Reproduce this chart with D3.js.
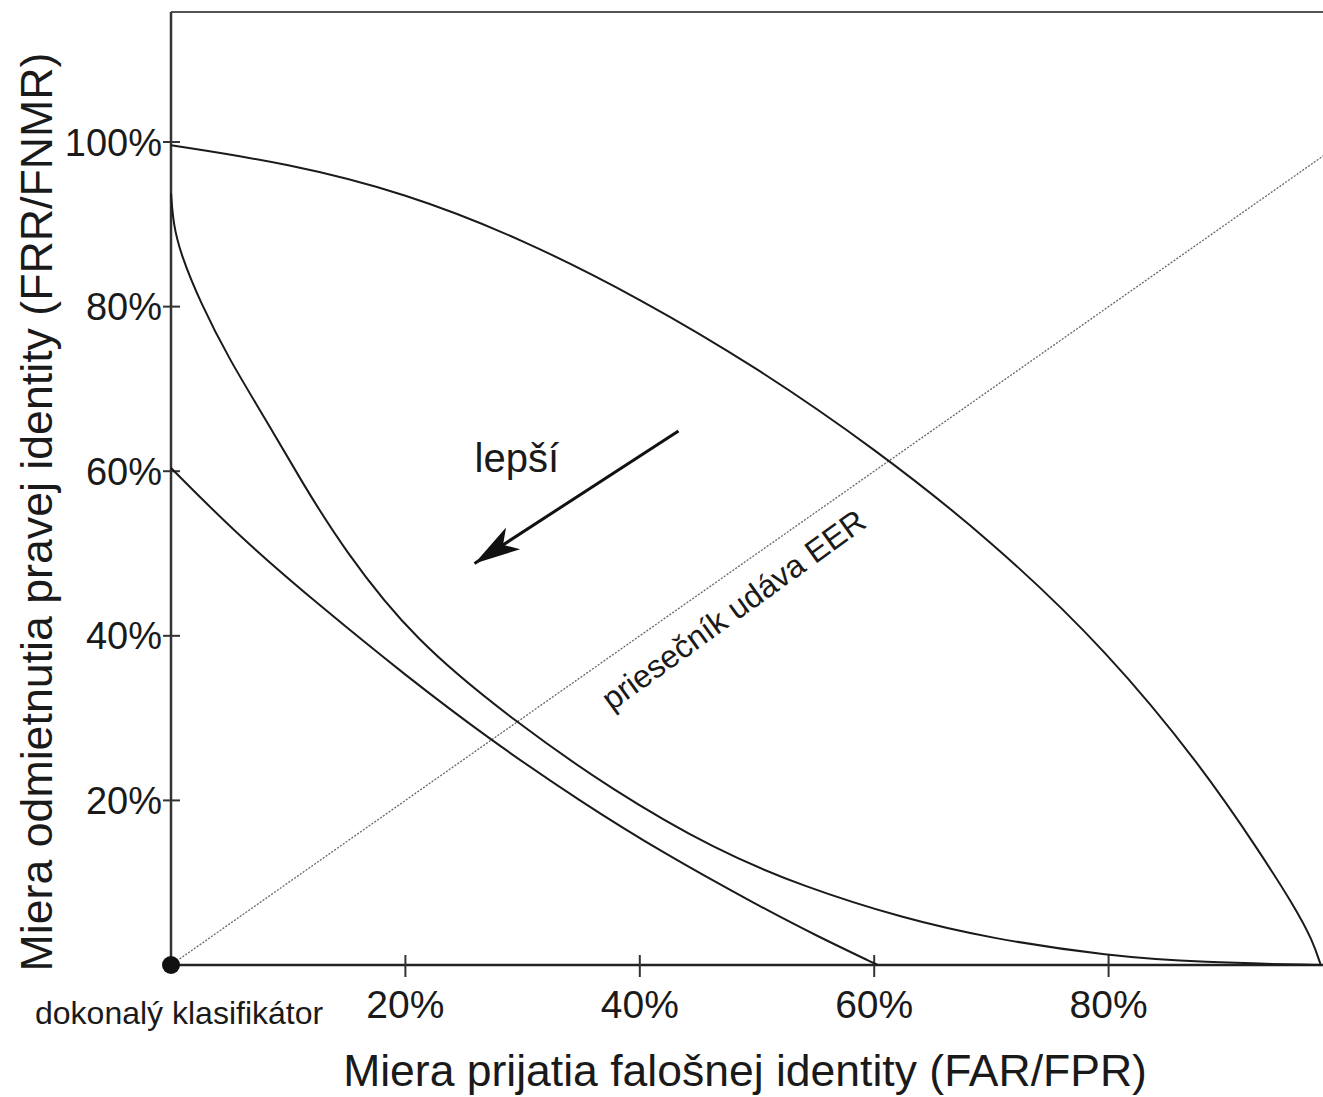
<!DOCTYPE html>
<html>
<head>
<meta charset="utf-8">
<script src="https://cdn.jsdelivr.net/npm/d3@7"></script>
<style>
  body { margin: 0; background: #fff; }
  text { font-family: "Liberation Sans", Arial, sans-serif; fill: #1a1a1a; }
</style>
</head>
<body>
<div id="chart"></div>
<script>
// tick values (percent)
var xTicks = [20, 40, 60, 80];
var yTicks = [20, 40, 60, 80, 100];

// curves: [FAR %, FRR %]
var curveOuter = [[0, 99.6], [10, 97.4], [20, 93.8], [30, 88.2], [40, 81], [50, 72.6],
  [60, 62.8], [70, 51.6], [80, 38], [88, 24], [93, 13.5], [95.9, 7], [97.4, 3], [98.1, 0]];
var curveMiddle = [[0, 93.8], [0.2, 90], [0.8, 86.5], [2.5, 80.5], [5, 73.5], [8, 66.5],
  [11.2, 58.6], [14.7, 50.6], [20.7, 39.5], [29.5, 29.4], [37.6, 21.3], [46.4, 14], [54, 9.5],
  [62.4, 5.7], [70, 3.2], [80, 1.1], [88, 0.3], [98.1, 0]];
var curveInner = [[0, 60.4], [6, 51.8], [13, 43.3], [20, 35.2], [27, 27.6], [35, 19.8],
  [42, 13.6], [50, 7.3], [55, 3.6], [60.3, 0]];
var eerLine = [[0, 0], [100, 100]];

var width = 1323, height = 1097;

var svg = d3.select("#chart")
  .append("svg")
    .attr("width", width)
    .attr("height", height);

svg.append("rect").attr("width", width).attr("height", height).attr("fill", "#fff");

var x = d3.scaleLinear()
  .domain([0, 100])
  .range([171, 1343]);

var y = d3.scaleLinear()
  .domain([0, 115.8])
  .range([965, 12]);

var line = d3.line()
  .x(function(d) { return x(d[0]); })
  .y(function(d) { return y(d[1]); })
  .curve(d3.curveBasis);

// frame: top edge and left axis
svg.append("line")
  .attr("x1", x(0)).attr("x2", width)
  .attr("y1", y(115.8)).attr("y2", y(115.8))
  .attr("stroke", "#555").attr("stroke-width", 2);

svg.append("line")
  .attr("x1", x(0)).attr("x2", x(0))
  .attr("y1", y(115.8)).attr("y2", y(0))
  .attr("stroke", "#333").attr("stroke-width", 2.5);

svg.append("line")
  .attr("x1", x(0)).attr("x2", width)
  .attr("y1", y(0)).attr("y2", y(0))
  .attr("stroke", "#222").attr("stroke-width", 2.5);

// ticks crossing the axes
svg.selectAll(".xtick")
  .data(xTicks)
  .enter()
  .append("line")
    .attr("x1", function(d) { return x(d); })
    .attr("x2", function(d) { return x(d); })
    .attr("y1", y(0) - 10)
    .attr("y2", y(0) + 12)
    .attr("stroke", "#333").attr("stroke-width", 2);

svg.selectAll(".xlab")
  .data(xTicks)
  .enter()
  .append("text")
    .attr("x", function(d) { return x(d); })
    .attr("y", y(0) + 53)
    .attr("text-anchor", "middle")
    .style("font-size", "39px")
    .text(function(d) { return d + "%"; });

svg.selectAll(".ytick")
  .data(yTicks)
  .enter()
  .append("line")
    .attr("x1", x(0) - 8)
    .attr("x2", x(0) + 9)
    .attr("y1", function(d) { return y(d); })
    .attr("y2", function(d) { return y(d); })
    .attr("stroke", "#333").attr("stroke-width", 2);

svg.selectAll(".ylab")
  .data(yTicks)
  .enter()
  .append("text")
    .attr("x", x(0) - 9)
    .attr("y", function(d) { return y(d); })
    .attr("dy", "0.36em")
    .attr("text-anchor", "end")
    .style("font-size", "38px")
    .text(function(d) { return d + "%"; });

// EER diagonal
svg.append("path")
  .datum(eerLine)
  .attr("d", d3.line().x(function(d) { return x(d[0]); }).y(function(d) { return y(d[1]); }))
  .attr("fill", "none")
  .attr("stroke", "#666")
  .attr("stroke-width", 1.3)
  .attr("stroke-dasharray", "2,1.5");

// curves
[curveOuter, curveMiddle, curveInner].forEach(function(c) {
  svg.append("path")
    .datum(c)
    .attr("d", line)
    .attr("fill", "none")
    .attr("stroke", "#1a1a1a")
    .attr("stroke-width", 2);
});

// perfect classifier dot
svg.append("circle")
  .attr("cx", x(0)).attr("cy", y(0))
  .attr("r", 9)
  .attr("fill", "#111");

// "better" arrow
svg.append("defs").append("marker")
  .attr("id", "head")
  .attr("markerUnits", "userSpaceOnUse")
  .attr("markerWidth", 60).attr("markerHeight", 40)
  .attr("viewBox", "-50 -20 60 40")
  .attr("refX", 0).attr("refY", 0)
  .attr("orient", "auto")
  .append("path")
    .attr("d", "M0,0 L-46,-13 L-34,0 L-46,13 Z")
    .attr("fill", "#111");

svg.append("line")
  .attr("x1", x(43.3)).attr("y1", y(64.9))
  .attr("x2", x(25.9)).attr("y2", y(48.8))
  .attr("stroke", "#111")
  .attr("stroke-width", 3)
  .attr("marker-end", "url(#head)");

svg.append("text")
  .attr("x", x(25.9)).attr("y", y(59.9))
  .style("font-size", "40px")
  .text("lepší");

// label along the diagonal
var ang = Math.atan2(y(0) - y(100), x(100) - x(0)) * 180 / Math.PI;
svg.append("text")
  .attr("transform", "translate(" + x(37.6) + "," + y(30.8) + ") rotate(" + (-ang - 0.8) + ")")
  .style("font-size", "32px")
  .text("priesečník udáva EER");

svg.append("text")
  .attr("x", 35).attr("y", y(0) + 59)
  .style("font-size", "32px")
  .text("dokonalý klasifikátor");

// axis titles
svg.append("text")
  .attr("x", 745).attr("y", 1086)
  .attr("text-anchor", "middle")
  .style("font-size", "44.5px")
  .text("Miera prijatia falošnej identity (FAR/FPR)");

svg.append("text")
  .attr("transform", "translate(52," + 512 + ") rotate(-90)")
  .attr("text-anchor", "middle")
  .style("font-size", "44.7px")
  .text("Miera odmietnutia pravej identity (FRR/FNMR)");
</script>
</body>
</html>
